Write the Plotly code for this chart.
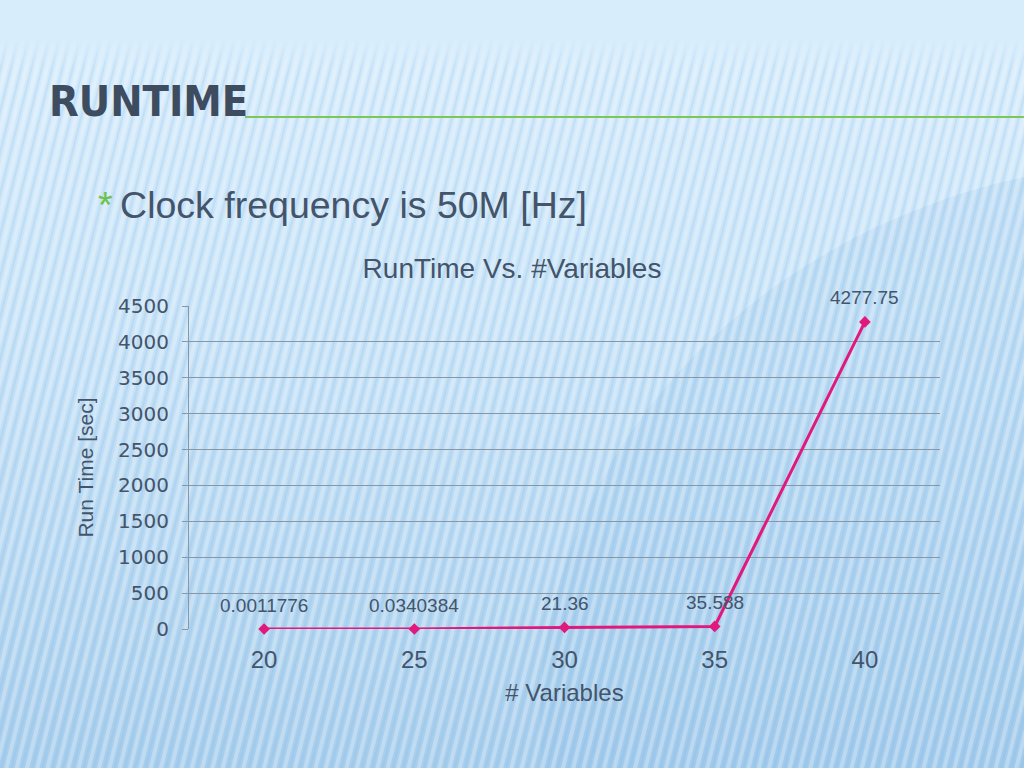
import base64
import plotly.graph_objects as go

# ---- data ----
variables = ["20", "25", "30", "35", "40"]
runtime_sec = [0.0011776, 0.0340384, 21.36, 35.588, 4277.75]
point_labels = ["0.0011776", "0.0340384", "21.36", "35.588", "4277.75"]
y_ticks = [0, 500, 1000, 1500, 2000, 2500, 3000, 3500, 4000, 4500]

W, H = 1024, 768
L, R, T, B = 189, 84, 306, 139
pw, ph = W - L - R, H - T - B

# decorative slide background (gradient + diagonal stripes + soft swoosh)
svg = f'''<svg xmlns="http://www.w3.org/2000/svg" width="{W}" height="{H}" viewBox="0 0 {W} {H}">
<defs>
<linearGradient id="g" x1="0" y1="0" x2="0" y2="1">
<stop offset="0" stop-color="#d8edfc"/>
<stop offset="0.45" stop-color="#c6e2f7"/>
<stop offset="1" stop-color="#a6cdec"/>
</linearGradient>
<pattern id="p" width="10" height="10" patternUnits="userSpaceOnUse" patternTransform="rotate(14)">
<rect x="0" y="0" width="4" height="10" fill="#ffffff" fill-opacity="0.28"/>
<rect x="6" y="0" width="2" height="10" fill="#7fb3dc" fill-opacity="0.18"/>
</pattern>
<linearGradient id="fade" x1="0" y1="0" x2="0" y2="1">
<stop offset="0" stop-color="#d8edfc" stop-opacity="1"/>
<stop offset="0.05" stop-color="#d8edfc" stop-opacity="1"/>
<stop offset="0.09" stop-color="#d8edfc" stop-opacity="0"/>
</linearGradient>
</defs>
<rect width="{W}" height="{H}" fill="url(#g)"/>
<ellipse cx="1180" cy="720" rx="640" ry="560" fill="#8fbfe6" fill-opacity="0.22"/>
<rect width="{W}" height="{H}" fill="url(#p)"/>
<rect width="{W}" height="{H}" fill="url(#fade)"/>
</svg>'''
src = "data:image/svg+xml;base64," + base64.b64encode(svg.encode()).decode()

text_col = "#44546a"
pink = "#e2197c"

fig = go.Figure()
fig.add_trace(go.Scatter(
    x=variables, y=runtime_sec, mode="lines+markers",
    line=dict(color=pink, width=3),
    marker=dict(symbol="diamond", size=9, color=pink),
    cliponaxis=False, showlegend=False, hoverinfo="skip",
))

# value labels above each point (x given as category index on the category axis)
label_annots = [
    dict(x=i, y=yv, text=lab, xref="x", yref="y", showarrow=False,
         yshift=24, yanchor="middle",
         font=dict(family="Liberation Sans", size=19, color=text_col))
    for i, (yv, lab) in enumerate(zip(runtime_sec, point_labels))
]

fig.update_layout(
    width=W, height=H,
    margin=dict(l=L, r=R, t=T, b=B),
    paper_bgcolor="#cfe7f9",
    plot_bgcolor="rgba(0,0,0,0)",
    images=[dict(source=src, xref="paper", yref="paper",
                 x=-L / pw, y=1 + T / ph, sizex=W / pw, sizey=H / ph,
                 sizing="stretch", xanchor="left", yanchor="top", layer="below")],
    title=dict(text="RunTime Vs. #Variables", x=0.5, xref="container", xanchor="center",
               y=1 - 268 / H, yanchor="middle",
               font=dict(family="Liberation Sans", size=28, color=text_col)),
    xaxis=dict(type="category", range=[-0.5, 4.5], showgrid=False, zeroline=False,
               showline=False, ticks="", ticklabelstandoff=14,
               tickfont=dict(family="Liberation Sans", size=24, color=text_col),
               title=dict(text="# Variables", standoff=12,
                          font=dict(family="Liberation Sans", size=24, color=text_col))),
    yaxis=dict(range=[0, 4500], tickvals=y_ticks, showgrid=True, gridcolor="#8797a6",
               gridwidth=1, zeroline=False, showline=True, linecolor="#8797a6",
               ticks="outside", ticklen=6, tickcolor="#8797a6", ticklabelstandoff=9,
               tickfont=dict(family="DejaVu Sans", size=20, color=text_col),
               title=dict(text="Run Time [sec]", standoff=18,
                          font=dict(family="Liberation Sans", size=21, color=text_col))),
    shapes=[dict(type="line", xref="paper", yref="paper",
                 x0=(245 - L) / pw, x1=(W - L) / pw,
                 y0=1 + (T - 117) / ph, y1=1 + (T - 117) / ph,
                 line=dict(color="#7cc65a", width=2))],
    annotations=[
        dict(text="<b>RUNTIME</b>", xref="paper", yref="paper", x=(47 - L) / pw, y=1 + (T - 101) / ph,
             xanchor="left", yanchor="middle", showarrow=False,
             font=dict(family="DejaVu Sans Condensed", size=43, color="#3e4c60")),
        dict(text="<span style='color:#6cc24a'>*</span>&#8201;Clock frequency is 50M [Hz]",
             xref="paper", yref="paper", x=(96 - L) / pw, y=1 + (T - 205) / ph,
             xanchor="left", yanchor="middle", showarrow=False,
             font=dict(family="Liberation Sans", size=37.5, color=text_col)),
    ] + label_annots,
)

fig.write_html("out.html", config={"displayModeBar": False},
               post_script="document.body.style.margin='0';document.body.style.padding='0';")
